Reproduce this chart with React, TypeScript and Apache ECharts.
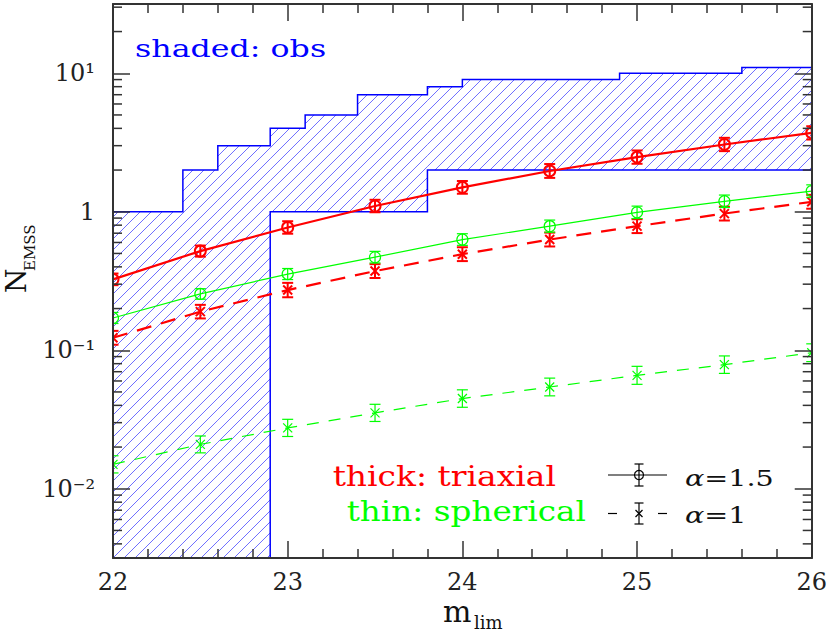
import React, { useEffect, useRef } from "react";
import * as echarts from "echarts";

// ---------- data ----------
const mLim = [22, 22.5, 23, 23.5, 24, 24.5, 25, 25.5, 26];
const triaxA15 = [0.325, 0.52, 0.77, 1.1, 1.5, 1.97, 2.48, 3.06, 3.71];
const triaxA1 = [0.123, 0.19, 0.272, 0.373, 0.494, 0.63, 0.787, 0.97, 1.18];
const spherA15 = [0.171, 0.255, 0.355, 0.47, 0.63, 0.787, 0.99, 1.19, 1.41];
const spherA1 = [0.015, 0.0209, 0.0275, 0.0353, 0.0448, 0.0543, 0.0659, 0.0787, 0.096];
// error-bar half sizes (dex)
const triaxA15Err = [0.042, 0.04, 0.045, 0.045, 0.046, 0.05, 0.048, 0.048, 0.048];
const triaxA1Err = [0.05, 0.049, 0.052, 0.05, 0.05, 0.05, 0.05, 0.05, 0.05];
const spherA15Err = [0.04, 0.038, 0.04, 0.042, 0.042, 0.044, 0.045, 0.045, 0.045];
const spherA1Err = [0.062, 0.061, 0.062, 0.062, 0.063, 0.064, 0.065, 0.063, 0.064];
// observed (shaded) band: bin edges, upper and lower counts (0 = no lower bound)
const obsEdges = [22, 22.4, 22.6, 22.9, 23.1, 23.4, 23.8, 24.0, 24.9, 25.6, 26];
const obsUpper = [1, 2, 3, 4, 5, 7, 8, 9, 10, 11];
const obsLower = [0, 0, 0, 1, 1, 1, 2, 2, 2, 2];
// axes
const X_MIN = 22;
const X_MAX = 26;
const Y_MIN = Math.pow(10, -2.5);
const Y_MAX = Math.pow(10, 1.5);

const FONT = "DejaVu Serif";
const FRAME = "#333333";
const RED = "#ff0000";
const GREEN = "#00ff00";
const BLUE = "#0000ff";

const SUP: Record<string, string> = { "-": "\u207b", "0": "\u2070", "1": "\u00b9", "2": "\u00b2", "3": "\u00b3" };

function yLabel(v: number): string {
  const l = Math.log10(v);
  const e = Math.round(l);
  if (Math.abs(l - e) > 0.01) return "";
  if (e === 0) return "1";
  return "10" + String(e).split("").map((c) => SUP[c] || c).join("");
}

function errSeries(name: string, values: number[], errs: number[], color: string, lw: number, marker: string) {
  return {
    type: "custom",
    name,
    clip: true,
    z: 6,
    data: mLim.map((x, i) => [x, values[i], errs[i]]),
    renderItem: (_p: any, api: any) => {
      const x = api.value(0);
      const v = api.value(1);
      const e = api.value(2);
      const p = api.coord([x, v]);
      const t = api.coord([x, v * Math.pow(10, e)]);
      const b = api.coord([x, v / Math.pow(10, e)]);
      const cw = 5.5;
      const style = { stroke: color, lineWidth: lw, fill: "none" };
      const children: any[] = [
        { type: "line", shape: { x1: p[0], y1: t[1], x2: p[0], y2: b[1] }, style },
        { type: "line", shape: { x1: p[0] - cw, y1: t[1], x2: p[0] + cw, y2: t[1] }, style },
        { type: "line", shape: { x1: p[0] - cw, y1: b[1], x2: p[0] + cw, y2: b[1] }, style },
      ];
      if (marker === "circle") {
        children.push({ type: "circle", shape: { cx: p[0], cy: p[1], r: 5.5 }, style });
      } else {
        const s = 4.5;
        children.push({ type: "line", shape: { x1: p[0] - s, y1: p[1] - s, x2: p[0] + s, y2: p[1] + s }, style });
        children.push({ type: "line", shape: { x1: p[0] - s, y1: p[1] + s, x2: p[0] + s, y2: p[1] - s }, style });
      }
      return { type: "group", children };
    },
  };
}

function lineSeries(name: string, values: number[], color: string, lw: number, dash: any) {
  return {
    type: "line",
    name,
    data: mLim.map((x, i) => [x, values[i]]),
    showSymbol: false,
    symbol: "none",
    z: 5,
    lineStyle: { color, width: lw, type: dash },
    silent: true,
  };
}

const minorYTicks: number[] = [];
for (let d = -3; d <= 1; d++) {
  for (let m = 2; m <= 9; m++) {
    const v = m * Math.pow(10, d);
    if (v > Y_MIN && v < Y_MAX) minorYTicks.push(v);
  }
}

export default function App() {
  const ref = useRef<HTMLDivElement>(null);
  useEffect(() => {
    if (!ref.current) return;
    const chart = echarts.init(ref.current, null, { renderer: "svg" });

    const hatchSeries = {
      type: "custom",
      name: "obs",
      clip: true,
      z: 1,
      data: [[X_MIN, 1]],
      renderItem: (_p: any, api: any) => {
        const k = 1;
        const step = 11;
        const yMinPx = api.coord([X_MIN, Y_MIN])[1];
        const bins = obsUpper.map((u, i) => {
          const xa = api.coord([obsEdges[i], 1])[0];
          const xb = api.coord([obsEdges[i + 1], 1])[0];
          const yt = api.coord([X_MIN, u])[1];
          const yb = obsLower[i] > 0 ? api.coord([X_MIN, obsLower[i]])[1] : yMinPx;
          return { xa, xb, yt, yb };
        });
        const cMin = Math.min(...bins.map((b) => b.yt + k * b.xa));
        const cMax = Math.max(...bins.map((b) => b.yb + k * b.xb));
        const children: any[] = [];
        const hs = { stroke: "#4a4aff", lineWidth: 0.8 };
        for (let c = Math.floor(cMin / step) * step; c <= cMax; c += step) {
          for (const b of bins) {
            const lo = Math.max(b.xa, (c - b.yb) / k);
            const hi = Math.min(b.xb, (c - b.yt) / k);
            if (hi > lo) {
              children.push({ type: "line", shape: { x1: lo, y1: c - k * lo, x2: hi, y2: c - k * hi }, style: hs });
            }
          }
        }
        const pts: number[][] = [];
        bins.forEach((b) => {
          pts.push([b.xa, b.yt]);
          pts.push([b.xb, b.yt]);
        });
        for (let i = bins.length - 1; i >= 0; i--) {
          pts.push([bins[i].xb, bins[i].yb]);
          pts.push([bins[i].xa, bins[i].yb]);
        }
        children.push({ type: "polygon", shape: { points: pts }, style: { fill: "none", stroke: BLUE, lineWidth: 1.5 } });
        return { type: "group", children };
      },
    };

    const minorTickSeries = {
      type: "custom",
      name: "minorTicks",
      clip: false,
      z: 20,
      silent: true,
      data: minorYTicks.map((v) => [X_MIN, v]),
      renderItem: (_p: any, api: any) => {
        const v = api.value(1);
        const l = api.coord([X_MIN, v]);
        const r = api.coord([X_MAX, v]);
        const st = { stroke: FRAME, lineWidth: 1.5 };
        return {
          type: "group",
          children: [
            { type: "line", shape: { x1: l[0], y1: l[1], x2: l[0] + 9, y2: l[1] }, style: st },
            { type: "line", shape: { x1: r[0] - 9, y1: r[1], x2: r[0], y2: r[1] }, style: st },
          ],
        };
      },
    };

    const xAxisBase = {
      type: "value",
      min: X_MIN,
      max: X_MAX,
      interval: 1,
      z: 10,
      axisLine: { show: true, lineStyle: { color: FRAME, width: 2 } },
      axisTick: { show: true, inside: true, length: 17, lineStyle: { color: FRAME, width: 1.5 } },
      minorTick: { show: true, splitNumber: 5, length: 9, lineStyle: { color: FRAME, width: 1.5 } },
      splitLine: { show: false },
      minorSplitLine: { show: false },
    };
    const yAxisBase = {
      type: "log",
      logBase: 10,
      min: Y_MIN,
      max: Y_MAX,
      z: 10,
      axisLine: { show: true, lineStyle: { color: FRAME, width: 2 } },
      axisTick: { show: true, inside: true, length: 17, lineStyle: { color: FRAME, width: 1.5 } },
      splitLine: { show: false },
    };

    const txt = (text: string, x: number, y: number, size: number, color: string, align: string, scaleX = 1) => ({
      type: "text",
      x,
      y,
      scaleX,
      style: {
        text,
        fill: color,
        fontFamily: FONT,
        fontSize: size,
        fontWeight: "normal",
        textAlign: align,
        align,
        textVerticalAlign: "middle",
        verticalAlign: "middle",
      },
    });

    const alphaText = (label: string, y: number) => ({
      type: "text",
      x: 685,
      y,
      scaleX: 1.3,
      style: {
        text: "{a|\u03b1}{b|" + label + "}",
        fill: "#000",
        fontFamily: FONT,
        fontSize: 22,
        fontWeight: "normal",
        textVerticalAlign: "middle",
        verticalAlign: "middle",
        rich: {
          a: { fontFamily: FONT, fontSize: 22, fontStyle: "italic", fontWeight: "normal", fill: "#111" },
          b: { fontFamily: FONT, fontSize: 22, fontWeight: "normal", fill: "#111" },
        },
      },
    });

    const legStyle = { stroke: "#000", lineWidth: 1.2, fill: "none" };
    const lx = 639;
    const r1 = 475;
    const r2 = 513.5;

    chart.setOption({
      animation: false,
      grid: { left: 113, right: 18, top: 4, bottom: 76, containLabel: false },
      xAxis: [
        {
          ...xAxisBase,
          position: "bottom",
          axisLabel: { show: true, margin: 12, fontFamily: FONT, fontSize: 24, color: "#222" },
        },
        { ...xAxisBase, position: "top", axisLabel: { show: false } },
      ],
      yAxis: [
        {
          ...yAxisBase,
          position: "left",
          axisLabel: {
            show: true,
            margin: 18,
            fontFamily: FONT,
            fontSize: 24,
            color: "#222",
            showMinLabel: false,
            showMaxLabel: false,
            formatter: (v: number) => yLabel(v),
          },
        },
        { ...yAxisBase, position: "right", axisLabel: { show: false } },
      ],
      series: [
        hatchSeries,
        lineSeries("triaxial a=1.5", triaxA15, RED, 2.2, "solid"),
        lineSeries("triaxial a=1", triaxA1, RED, 2.2, [15, 10]),
        lineSeries("spherical a=1.5", spherA15, GREEN, 1.2, "solid"),
        lineSeries("spherical a=1", spherA1, GREEN, 1.2, [12, 10]),
        errSeries("triaxial a=1.5 err", triaxA15, triaxA15Err, RED, 2, "circle"),
        errSeries("triaxial a=1 err", triaxA1, triaxA1Err, RED, 2, "cross"),
        errSeries("spherical a=1.5 err", spherA15, spherA15Err, GREEN, 1.2, "circle"),
        errSeries("spherical a=1 err", spherA1, spherA1Err, GREEN, 1.2, "cross"),
        minorTickSeries,
      ],
      graphic: [
        txt("shaded: obs", 135, 49, 24, BLUE, "left", 1.32),
        txt("thick: triaxial", 556, 477, 27, RED, "right", 1.22),
        txt("thin: spherical", 586, 511.5, 27, GREEN, "right", 1.21),
        // legend samples
        { type: "line", shape: { x1: 608, y1: r1, x2: 667, y2: r1 }, style: legStyle },
        { type: "circle", shape: { cx: lx, cy: r1, r: 4.5 }, style: legStyle },
        { type: "line", shape: { x1: lx, y1: r1 - 11, x2: lx, y2: r1 + 11 }, style: legStyle },
        { type: "line", shape: { x1: lx - 4.5, y1: r1 - 11, x2: lx + 4.5, y2: r1 - 11 }, style: legStyle },
        { type: "line", shape: { x1: lx - 4.5, y1: r1 + 11, x2: lx + 4.5, y2: r1 + 11 }, style: legStyle },
        { type: "line", shape: { x1: 608, y1: r2, x2: 617, y2: r2 }, style: legStyle },
        { type: "line", shape: { x1: 658, y1: r2, x2: 667, y2: r2 }, style: legStyle },
        { type: "line", shape: { x1: lx, y1: r2 - 10.5, x2: lx, y2: r2 + 10.5 }, style: legStyle },
        { type: "line", shape: { x1: lx - 4.5, y1: r2 - 10.5, x2: lx + 4.5, y2: r2 - 10.5 }, style: legStyle },
        { type: "line", shape: { x1: lx - 4.5, y1: r2 + 10.5, x2: lx + 4.5, y2: r2 + 10.5 }, style: legStyle },
        { type: "line", shape: { x1: lx - 3.5, y1: r2 - 3.5, x2: lx + 3.5, y2: r2 + 3.5 }, style: legStyle },
        { type: "line", shape: { x1: lx - 3.5, y1: r2 + 3.5, x2: lx + 3.5, y2: r2 - 3.5 }, style: legStyle },
        alphaText("=1.5", 478),
        alphaText("=1", 515),
        // axis titles
        txt("m", 443, 611, 30, "#111", "left"),
        txt("lim", 474, 622, 18, "#111", "left"),
        {
          type: "group",
          x: 16,
          y: 293,
          rotation: Math.PI / 2,
          children: [
            txt("N", 0, 0, 28, "#111", "left"),
            txt("EMSS", 22, 14, 15, "#111", "left"),
          ],
        },
      ],
    });
    return () => chart.dispose();
  }, []);
  return <div ref={ref} style={{ position: "absolute", left: 0, top: 0, width: 830, height: 634 }} />;
}
